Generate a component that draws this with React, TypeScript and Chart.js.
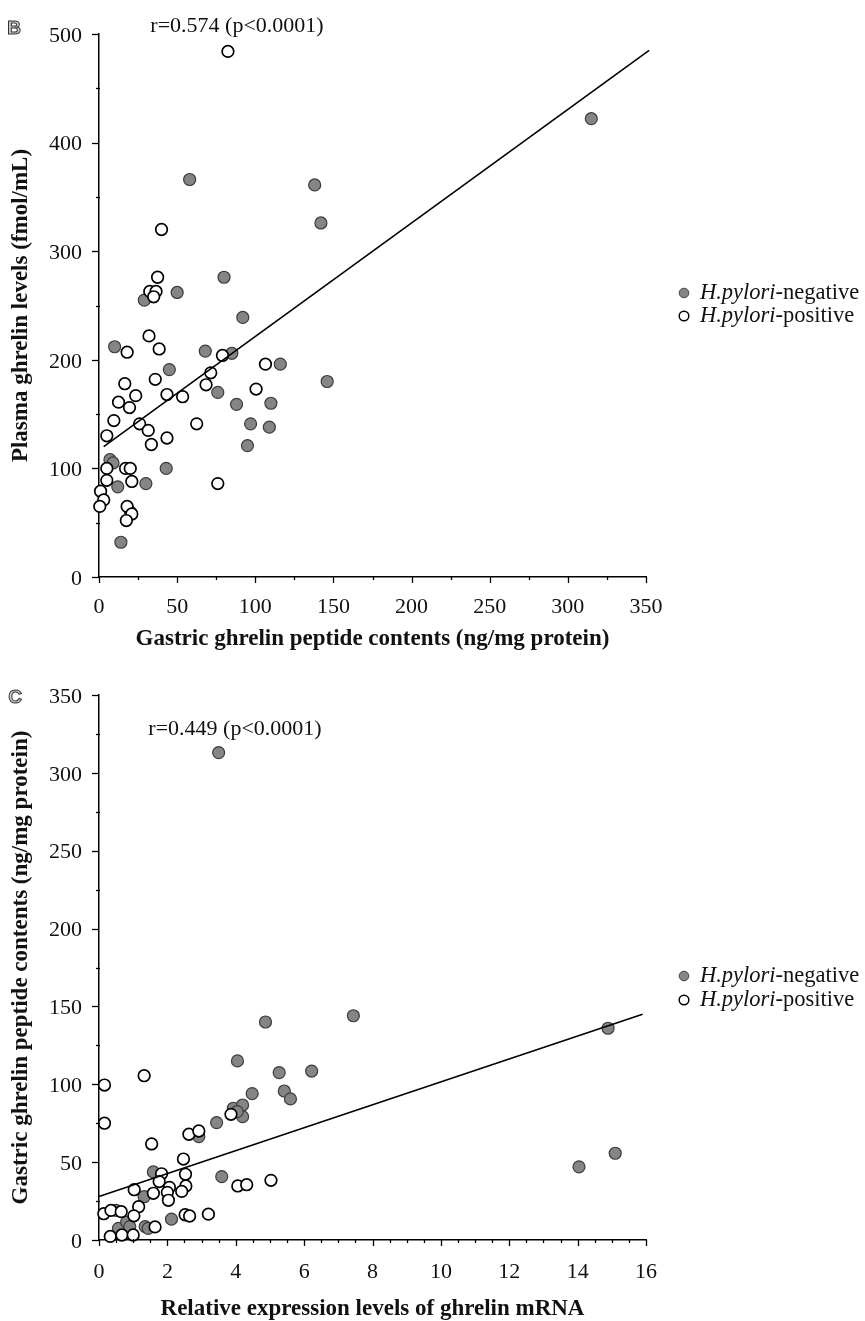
import { useEffect, useRef } from 'react';
import { Chart, registerables } from 'chart.js';

Chart.register(...registerables);

const SERIF = '"Liberation Serif", "Times New Roman", serif';

// ---------- Panel B : plasma ghrelin vs gastric ghrelin peptide ----------
const bNegativeX = [29, 50, 80, 58, 138, 142, 315, 92, 10, 68, 85, 45, 116, 76, 88, 110, 97, 109, 95, 146, 7, 9, 12, 30, 43, 20, 14];
const bNegativeY = [255, 262, 276, 366, 361, 326, 422, 239, 212, 208, 206, 191, 196, 170, 159, 160, 141, 138, 121, 180, 108, 105, 83, 86, 100, 60, 32];
const bPositiveX = [82.5, 40, 37.5, 32.5, 36.5, 35, 32, 38.5, 18, 79, 71.5, 106.5, 16.5, 36, 68.5, 23.5, 12.5, 19.5, 43.5, 53.5, 100.5, 9.5, 26, 31.5, 62.5, 5, 33.5, 43.5, 5, 17, 20, 5, 21, 76, 1, 3, 0.5, 18, 21, 17.5];
const bPositiveY = [484, 320, 276, 263, 263, 258, 222, 210, 207, 204, 188, 196, 178, 182, 177, 167, 161, 156, 168, 166, 173, 144, 141, 135, 141, 130, 122, 128, 100, 100, 100, 89, 88, 86, 79, 71, 65, 65, 58, 52];
const bFitX = [3, 352];
const bFitY = [120, 485];
const bXTicks = [0, 50, 100, 150, 200, 250, 300, 350];
const bYTicks = [0, 100, 200, 300, 400, 500];
const bXTitle = 'Gastric ghrelin peptide contents (ng/mg protein)';
const bYTitle = 'Plasma ghrelin levels (fmol/mL)';
const bNote = 'r=0.574 (p<0.0001)';

// ---------- Panel C : gastric ghrelin peptide vs ghrelin mRNA ----------
const cNegativeX = [3.5, 4.87, 7.44, 4.05, 5.27, 6.22, 4.48, 5.42, 5.6, 3.93, 4.2, 4.2, 4.04, 3.44, 2.92, 3.59, 1.59, 1.32, 2.12, 1.35, 1.44, 0.57, 0.81, 0.9, 0.5, 14.89, 14.04, 15.1];
const cNegativeY = [313, 140, 144, 115, 107.5, 108.5, 94, 95.7, 90.6, 84.6, 86.7, 79.2, 82.4, 75.4, 66.4, 40.7, 43.7, 27.8, 13.4, 8.6, 7.5, 7.5, 11.5, 8.6, 19, 136, 47, 55.7];
const cPositiveX = [0.16, 0.16, 1.32, 1.54, 2.63, 2.92, 3.86, 2.47, 2.53, 1.83, 1.76, 2.06, 2.0, 2.54, 2.42, 1.03, 1.59, 2.03, 1.16, 4.06, 4.32, 5.03, 3.2, 2.52, 2.65, 0.14, 1.02, 1.64, 0.33, 0.67, 1.0, 0.35, 0.65];
const cPositiveY = [99.5, 75, 105.5, 61.7, 67.9, 70, 80.7, 52, 42.2, 42.5, 37.5, 33.8, 30.6, 34.7, 31.2, 32.3, 30, 25.5, 21.4, 34.7, 35.5, 38.3, 16.6, 16.2, 15.4, 16.9, 15.5, 8.4, 2.3, 3.2, 3.2, 19, 18.2];
const cFitX = [0, 15.9];
const cFitY = [28, 145];
const cXTicks = [0, 2, 4, 6, 8, 10, 12, 14, 16];
const cYTicks = [0, 50, 100, 150, 200, 250, 300, 350];
const cXTitle = 'Relative expression levels of ghrelin mRNA';
const cYTitle = 'Gastric ghrelin peptide contents (ng/mg protein)';
const cNote = 'r=0.449 (p<0.0001)';

// ---------- Legend ----------
const legendGenus = 'H.pylori';
const legendSuffixes = ['-negative', '-positive'];

const zip = (xs: number[], ys: number[]) => xs.map((x, i) => ({ x, y: ys[i] }));

const decorPlugin = {
  id: 'decor',
  afterDraw(chart: any, _args: any, o: any) {
    const { ctx, chartArea: ca, scales } = chart;
    const xs = scales.x;
    const ys = scales.y;
    ctx.save();
    ctx.strokeStyle = '#000';
    ctx.lineWidth = 1.3;
    // x-axis ticks (major + minor)
    const nx = Math.round((xs.max - xs.min) / o.xMinor);
    for (let i = 0; i <= nx; i++) {
      const p = Math.round(xs.getPixelForValue(xs.min + i * o.xMinor)) + 0.5;
      const major = i % o.xEvery === 0;
      ctx.beginPath();
      ctx.moveTo(p, ca.bottom - (major ? 0 : 1));
      ctx.lineTo(p, ca.bottom + (major ? 6 : 3));
      ctx.stroke();
    }
    // y-axis ticks
    const ny = Math.round((ys.max - ys.min) / o.yMinor);
    for (let i = 0; i <= ny; i++) {
      const p = Math.round(ys.getPixelForValue(ys.min + i * o.yMinor)) + 0.5;
      const major = i % o.yEvery === 0;
      ctx.beginPath();
      ctx.moveTo(ca.left + (major ? 0 : 1), p);
      ctx.lineTo(ca.left - (major ? 7 : 3), p);
      ctx.stroke();
    }
    // correlation note
    ctx.fillStyle = '#111';
    ctx.font = `22px ${SERIF}`;
    ctx.textAlign = 'center';
    ctx.textBaseline = 'middle';
    ctx.fillText(o.note, o.noteX, o.noteY);
    // panel letter
    ctx.font = `bold 19px "Liberation Sans", Arial, sans-serif`;
    ctx.textAlign = 'center';
    ctx.lineWidth = 1;
    ctx.fillStyle = '#cfcfcf';
    ctx.strokeStyle = '#333';
    ctx.fillText(o.letter, o.letterX, o.letterY);
    ctx.strokeText(o.letter, o.letterX, o.letterY);
    // legend
    ctx.textAlign = 'left';
    ctx.textBaseline = 'middle';
    o.legendY.forEach((ly: number, i: number) => {
      ctx.beginPath();
      ctx.arc(o.legendX, ly, 4.8, 0, Math.PI * 2);
      if (i === 0) {
        ctx.fillStyle = '#858585';
        ctx.fill();
        ctx.lineWidth = 1;
        ctx.strokeStyle = '#444';
        ctx.stroke();
      } else {
        ctx.fillStyle = '#fff';
        ctx.fill();
        ctx.lineWidth = 1.5;
        ctx.strokeStyle = '#000';
        ctx.stroke();
      }
      ctx.fillStyle = '#111';
      ctx.font = `italic 22.5px ${SERIF}`;
      const tx = o.legendX + 16;
      ctx.fillText(legendGenus, tx, ly);
      const w = ctx.measureText(legendGenus).width;
      ctx.font = `22.5px ${SERIF}`;
      ctx.fillText(legendSuffixes[i], tx + w, ly);
    });
    ctx.restore();
  },
};

function makeConfig(p: any): any {
  return {
    type: 'scatter',
    data: {
      datasets: [
        {
          type: 'line',
          data: zip(p.fitX, p.fitY),
          borderColor: '#000',
          borderWidth: 1.6,
          pointRadius: 0,
          fill: false,
          clip: false,
        },
        {
          label: 'H.pylori-positive',
          data: zip(p.posX, p.posY),
          pointRadius: 5.8,
          pointBackgroundColor: '#fff',
          pointBorderColor: '#000',
          pointBorderWidth: 1.7,
          clip: false,
        },
        {
          label: 'H.pylori-negative',
          data: zip(p.negX, p.negY),
          pointRadius: 6,
          pointBackgroundColor: '#858585',
          pointBorderColor: '#3c3c3c',
          pointBorderWidth: 1.2,
          clip: false,
        },
      ],
    },
    options: {
      responsive: false,
      animation: false,
      events: [],
      layout: { padding: { top: p.top, right: p.right, left: 0, bottom: 0 } },
      plugins: {
        legend: { display: false },
        tooltip: { enabled: false },
        decor: p.decor,
      },
      scales: {
        x: {
          type: 'linear',
          min: p.xTicks[0],
          max: p.xTicks[p.xTicks.length - 1],
          afterBuildTicks: (s: any) => {
            s.ticks = p.xTicks.map((v: number) => ({ value: v }));
          },
          afterFit: (s: any) => {
            s.height = p.xAxisH;
          },
          grid: { display: false, drawTicks: false },
          border: { display: true, color: '#000', width: 1.5 },
          ticks: {
            color: '#111',
            font: { family: SERIF, size: 22 },
            padding: p.xPad,
            maxRotation: 0,
            autoSkip: false,
          },
          title: {
            display: true,
            text: p.xTitle,
            color: '#111',
            font: { family: SERIF, size: 23, weight: 'bold', lineHeight: 1 },
            padding: { top: 0, bottom: p.xTitlePad },
          },
        },
        y: {
          type: 'linear',
          min: p.yTicks[0],
          max: p.yTicks[p.yTicks.length - 1],
          afterBuildTicks: (s: any) => {
            s.ticks = p.yTicks.map((v: number) => ({ value: v }));
          },
          afterFit: (s: any) => {
            s.width = 99;
          },
          grid: { display: false, drawTicks: false },
          border: { display: true, color: '#000', width: 1.5 },
          ticks: {
            color: '#111',
            font: { family: SERIF, size: 22 },
            padding: 17,
            labelOffset: 2,
            autoSkip: false,
          },
          title: {
            display: true,
            text: p.yTitle,
            color: '#111',
            font: { family: SERIF, size: 23, weight: 'bold', lineHeight: 1 },
            padding: { top: 10, bottom: 0 },
          },
        },
      },
    },
    plugins: [decorPlugin],
  };
}

export default function App() {
  const refB = useRef<HTMLCanvasElement>(null);
  const refC = useRef<HTMLCanvasElement>(null);

  useEffect(() => {
    document.body.style.margin = '0';
    const chartB = new Chart(
      refB.current as HTMLCanvasElement,
      makeConfig({
        negX: bNegativeX, negY: bNegativeY, posX: bPositiveX, posY: bPositiveY,
        fitX: bFitX, fitY: bFitY, xTicks: bXTicks, yTicks: bYTicks,
        xTitle: bXTitle, yTitle: bYTitle,
        top: 34, right: 219, xAxisH: 83, xPad: 17, xTitlePad: 9,
        decor: {
          xMinor: 25, xEvery: 2, yMinor: 50, yEvery: 2,
          note: bNote, noteX: 237, noteY: 26,
          letter: 'B', letterX: 14, letterY: 29,
          legendX: 684, legendY: [293, 316],
        },
      })
    );
    const chartC = new Chart(
      refC.current as HTMLCanvasElement,
      makeConfig({
        negX: cNegativeX, negY: cNegativeY, posX: cPositiveX, posY: cPositiveY,
        fitX: cFitX, fitY: cFitY, xTicks: cXTicks, yTicks: cYTicks,
        xTitle: cXTitle, yTitle: cYTitle,
        top: 35, right: 219, xAxisH: 81, xPad: 19, xTitlePad: 0,
        decor: {
          xMinor: 0.5, xEvery: 4, yMinor: 25, yEvery: 2,
          note: cNote, noteX: 235, noteY: 69,
          letter: 'C', letterX: 15, letterY: 38,
          legendX: 684, legendY: [316, 340],
        },
      })
    );
    return () => {
      chartB.destroy();
      chartC.destroy();
    };
  }, []);

  return (
    <div style={{ position: 'relative', width: 865, height: 1321, background: '#fff' }}>
      <canvas ref={refB} width={865} height={660} style={{ position: 'absolute', left: 0, top: 0 }} />
      <canvas ref={refC} width={865} height={661} style={{ position: 'absolute', left: 0, top: 660 }} />
    </div>
  );
}
